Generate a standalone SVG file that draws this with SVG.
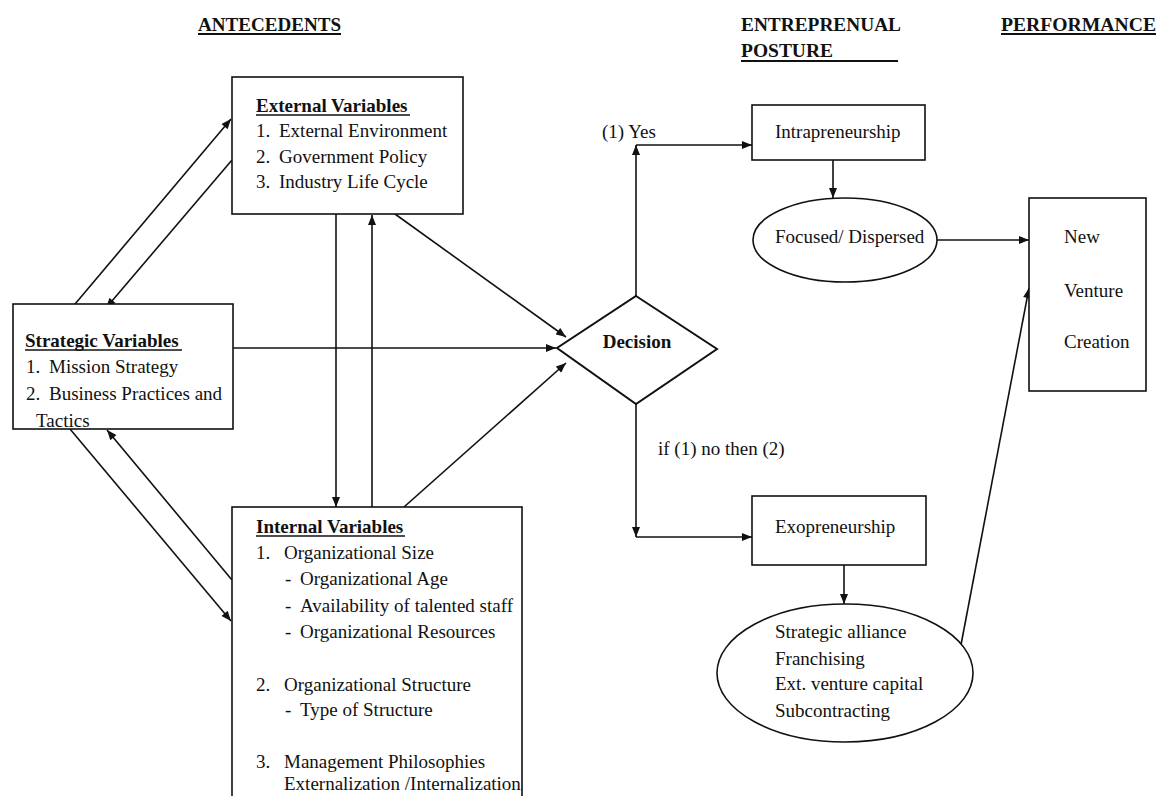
<svg xmlns="http://www.w3.org/2000/svg" width="1158" height="796" viewBox="0 0 1158 796">
<style>
text{font-family:"Liberation Serif","Times New Roman",serif;font-size:19px;fill:#111}
.b{font-weight:bold}
.box{fill:#fff;stroke:#111;stroke-width:1.6}
.ul{stroke:#111;stroke-width:1.6}
.ulh{stroke:#111;stroke-width:2.2}
.c{fill:none;stroke:#111;stroke-width:1.6}
</style>
<defs>
<marker id="ah" viewBox="0 0 10 8" refX="10" refY="4" markerWidth="11" markerHeight="8" markerUnits="userSpaceOnUse" orient="auto">
<path d="M0,0 L10,4 L0,8 Z" fill="#111"/>
</marker>
</defs>
<rect width="1158" height="796" fill="#fff"/>

<g id="headers">
<text class="b" x="198" y="31" textLength="143" lengthAdjust="spacingAndGlyphs">ANTECEDENTS</text>
<line class="ulh" x1="198" y1="34" x2="341" y2="34"/>
<text class="b" x="741" y="31" textLength="160" lengthAdjust="spacingAndGlyphs">ENTREPRENUAL</text>
<text class="b" x="741" y="57" textLength="92" lengthAdjust="spacingAndGlyphs">POSTURE</text>
<line class="ulh" x1="741" y1="61" x2="898" y2="61"/>
<text class="b" x="1001" y="31" textLength="155" lengthAdjust="spacingAndGlyphs">PERFORMANCE</text>
<line class="ulh" x1="1001" y1="34" x2="1156" y2="34"/>
</g>

<g id="connectors">
<line class="c" x1="70" y1="310" x2="231" y2="119" marker-end="url(#ah)"/>
<line class="c" x1="232" y1="160" x2="106" y2="308" marker-end="url(#ah)"/>
<line class="c" x1="70" y1="429" x2="231" y2="621" marker-end="url(#ah)"/>
<line class="c" x1="232" y1="580" x2="107" y2="430" marker-end="url(#ah)"/>
<line class="c" x1="336" y1="214" x2="336" y2="507" marker-end="url(#ah)"/>
<line class="c" x1="372" y1="507" x2="372" y2="215" marker-end="url(#ah)"/>
<line class="c" x1="395" y1="214" x2="566" y2="337" marker-end="url(#ah)"/>
<line class="c" x1="233" y1="348" x2="556" y2="348" marker-end="url(#ah)"/>
<line class="c" x1="404" y1="507" x2="566" y2="363" marker-end="url(#ah)"/>
<line class="c" x1="636" y1="296" x2="636" y2="145" marker-end="url(#ah)"/>
<line class="c" x1="636" y1="145" x2="752" y2="145" marker-end="url(#ah)"/>
<line class="c" x1="636" y1="404" x2="636" y2="537" marker-end="url(#ah)"/>
<line class="c" x1="636" y1="537" x2="752" y2="537" marker-end="url(#ah)"/>
<line class="c" x1="833" y1="160" x2="833" y2="198" marker-end="url(#ah)"/>
<line class="c" x1="937" y1="240" x2="1029" y2="240" marker-end="url(#ah)"/>
<line class="c" x1="844" y1="565" x2="844" y2="604" marker-end="url(#ah)"/>
<line class="c" x1="960" y1="650" x2="1029" y2="288" marker-end="url(#ah)"/>
<text x="602" y="138">(1)  Yes</text>
<text x="658" y="455">if (1) no then (2)</text>
</g>

<g id="external">
<rect class="box" x="232" y="77" width="231" height="137"/>
<text class="b" x="256" y="112">External Variables</text>
<line class="ul" x1="256" y1="115" x2="410" y2="115"/>
<text x="256" y="137">1.</text><text x="279" y="137">External Environment</text>
<text x="256" y="163">2.</text><text x="279" y="163">Government Policy</text>
<text x="256" y="188">3.</text><text x="279" y="188">Industry Life Cycle</text>
</g>

<g id="strategic">
<rect class="box" x="13" y="304" width="220" height="125"/>
<text class="b" x="25" y="347">Strategic Variables</text>
<line class="ul" x1="25" y1="350" x2="182" y2="350"/>
<text x="26" y="373">1.</text><text x="49" y="373">Mission Strategy</text>
<text x="26" y="400">2.</text><text x="49" y="400">Business Practices and</text>
<text x="36" y="427">Tactics</text>
</g>

<g id="internal">
<rect class="box" x="232" y="507" width="290" height="300"/>
<text class="b" x="256" y="533">Internal Variables</text>
<line class="ul" x1="256" y1="536" x2="405" y2="536"/>
<text x="256" y="559">1.</text><text x="284" y="559">Organizational Size</text>
<text x="285" y="585">-</text><text x="300" y="585">Organizational Age</text>
<text x="285" y="612">-</text><text x="300" y="612">Availability of talented staff</text>
<text x="285" y="638">-</text><text x="300" y="638">Organizational Resources</text>
<text x="256" y="691">2.</text><text x="284" y="691">Organizational Structure</text>
<text x="285" y="716">-</text><text x="300" y="716">Type of Structure</text>
<text x="256" y="768">3.</text><text x="284" y="768">Management Philosophies</text>
<text x="284" y="790">Externalization /Internalization</text>
</g>

<g id="decision">
<polygon points="636,296 717,349 636,404 557,348" fill="#fff" stroke="#111" stroke-width="2"/>
<text class="b" x="637" y="348" text-anchor="middle">Decision</text>
</g>

<g id="intrapreneurship">
<rect class="box" x="752" y="105" width="173" height="55"/>
<text x="775" y="138">Intrapreneurship</text>
</g>

<g id="focused">
<ellipse cx="845" cy="240" rx="92" ry="42" fill="#fff" stroke="#111" stroke-width="1.6"/>
<text x="775" y="243">Focused/ Dispersed</text>
</g>

<g id="newventure">
<rect class="box" x="1029" y="198" width="117" height="193"/>
<text x="1064" y="243">New</text>
<text x="1064" y="297">Venture</text>
<text x="1064" y="348">Creation</text>
</g>

<g id="exopreneurship">
<rect class="box" x="752" y="496" width="174" height="69"/>
<text x="775" y="533">Exopreneurship</text>
</g>

<g id="exooptions">
<ellipse cx="845" cy="673" rx="128" ry="69" fill="#fff" stroke="#111" stroke-width="1.6"/>
<text x="775" y="638">Strategic alliance</text>
<text x="775" y="665">Franchising</text>
<text x="775" y="690">Ext. venture capital</text>
<text x="775" y="717">Subcontracting</text>
</g>
</svg>
